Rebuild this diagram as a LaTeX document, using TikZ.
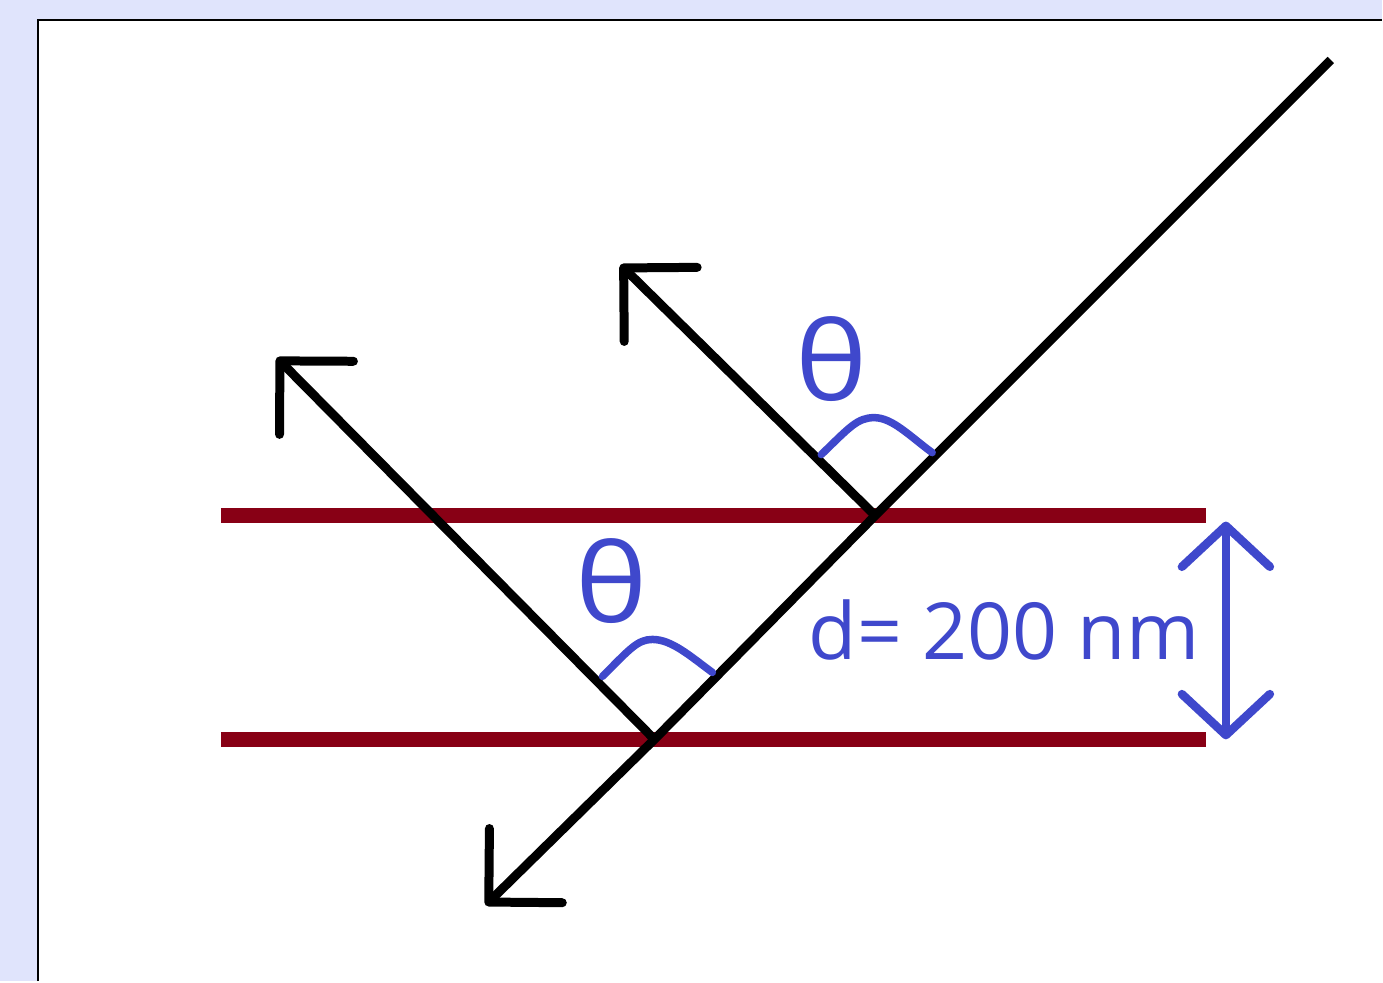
\documentclass[tikz,border=0pt]{standalone}
\usepackage{fontspec}
\newfontfamily\labelfont{Open Sans}
\usetikzlibrary{arrows.meta}
\definecolor{paper}{HTML}{E0E4FC}
\definecolor{filmred}{HTML}{880015}
\definecolor{indigo}{HTML}{3F48CC}

\begin{document}
\begin{tikzpicture}[x=0.01cm,y=-0.01cm,>={Straight Barb[length=5.2mm,width=10.4mm,round]},
  ray/.style={line width=0.9mm,black},
  film/.style={line width=1.5mm,filmred},
  angarc/.style={line width=0.75mm,indigo,line cap=round},
  dim/.style={line width=0.85mm,indigo,<->,>={Straight Barb[length=4.1mm,width=8.8mm,round]}},
  lbl/.style={text=indigo,inner sep=0pt,font=\labelfont\fontsize{22.4}{26}\selectfont},
  ang/.style={lbl,xscale=1.12,font=\labelfont\fontsize{31}{36}\selectfont}]
% frame
\fill[paper] (0,0) rectangle (1383,982);
\fill[white] (38,20) rectangle (1383,982);
\draw[line width=0.25mm] (38,982) -- (38,20) -- (1383,20);
% film
\draw[film] (221,516) -- (1207,516);
\draw[film] (221,740) -- (1207,740);
% rays
\coordinate (src) at (1332,60);
\coordinate (hitA) at (876,516);
\coordinate (hitB) at (655,740);
\coordinate (out) at (486,906);
\coordinate (refA) at (621,265);
\coordinate (refB) at (277,358);
\draw[ray,->] (src) -- (hitA) -- (hitB) -- (out);
\draw[ray,->] (hitA) -- (refA);
\draw[ray,->] (hitB) -- (refB);
% angles
\draw[angarc] (822,455) .. controls (850,428) and (858,418) .. (875,418) .. controls (893,418) and (910,436) .. (933,453);
\draw[angarc] (603,677) .. controls (630,650) and (638,640) .. (653,640) .. controls (672,640) and (690,656) .. (713,673);
\node[ang] (thA) at (832,359) {θ};
\node[ang] (thB) at (612,582) {θ};
% thickness
\coordinate (dTop) at (1227,522);
\coordinate (dBot) at (1227,740);
\draw[dim] (dTop) -- (dBot);
\node[lbl,anchor=base] (dlab) at (1005,660) {d= 200 nm};
\end{tikzpicture}
\end{document}
